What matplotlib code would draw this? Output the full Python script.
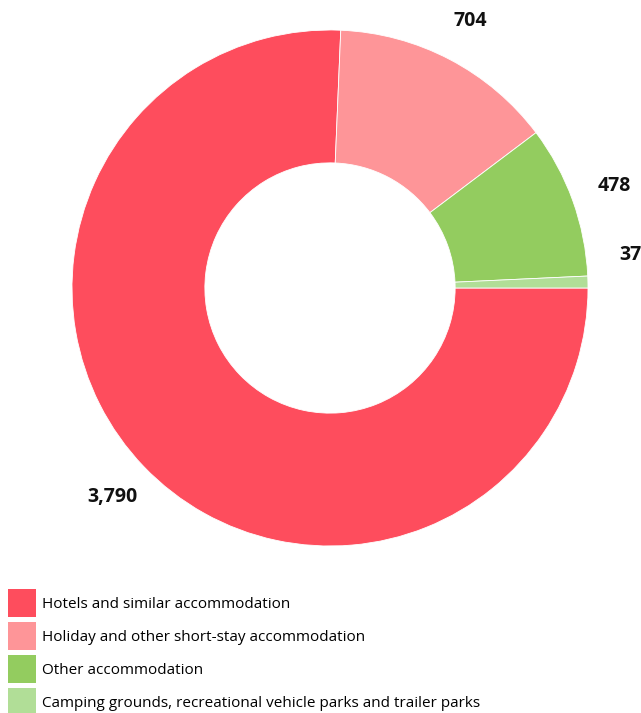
import numpy as np
from matplotlib import pyplot as plt
from matplotlib.patches import Rectangle

categories = ['Hotels and similar accommodation',
              'Holiday and other short-stay accommodation',
              'Other accommodation',
              'Camping grounds, recreational vehicle parks and trailer parks']
values = [3790, 704, 478, 37]
value_labels = ['3,790', '704', '478', '37']
colors = ['#FE4D5D', '#FE9598', '#93CC5F', '#B1DE97']

plt.rcParams['font.family'] = ['Open Sans', 'DejaVu Sans']

fig = plt.figure(figsize=(6.41, 7.13), dpi=100)
ax = fig.add_axes([72 / 641, (713 - 288 - 258) / 713, 516 / 641, 516 / 713])

wedges, _ = ax.pie(values, colors=colors, startangle=0, counterclock=False,
                   radius=1, wedgeprops=dict(width=0.515, edgecolor='white', linewidth=0.6))
ax.set_xlim(-1, 1)
ax.set_ylim(-1, 1)
ax.set_aspect('equal')
ax.axis('off')

# value labels just outside each slice
for w, lab in zip(wedges, value_labels):
    ang = np.deg2rad((w.theta1 + w.theta2) / 2)
    if abs(w.theta2 - w.theta1) < 5:
        ang = np.deg2rad(6.3)  # nudge the tiny slice's label up
    r = 1.17
    ax.text(r * np.cos(ang), r * np.sin(ang), lab, ha='center', va='center',
            fontsize=14, fontweight='bold', color='#111111', clip_on=False)

handles = [Rectangle((0, 0), 1, 1, facecolor=c, edgecolor='none') for c in colors]
fig.legend(handles, categories, loc='upper left', bbox_to_anchor=(8 / 641, 1 - 589 / 713),
           frameon=False, fontsize=11, handlelength=1.83, handleheight=2.44,
           labelspacing=0.33, handletextpad=0.39, borderpad=0, borderaxespad=0)

fig.savefig('out.png', dpi=100)
